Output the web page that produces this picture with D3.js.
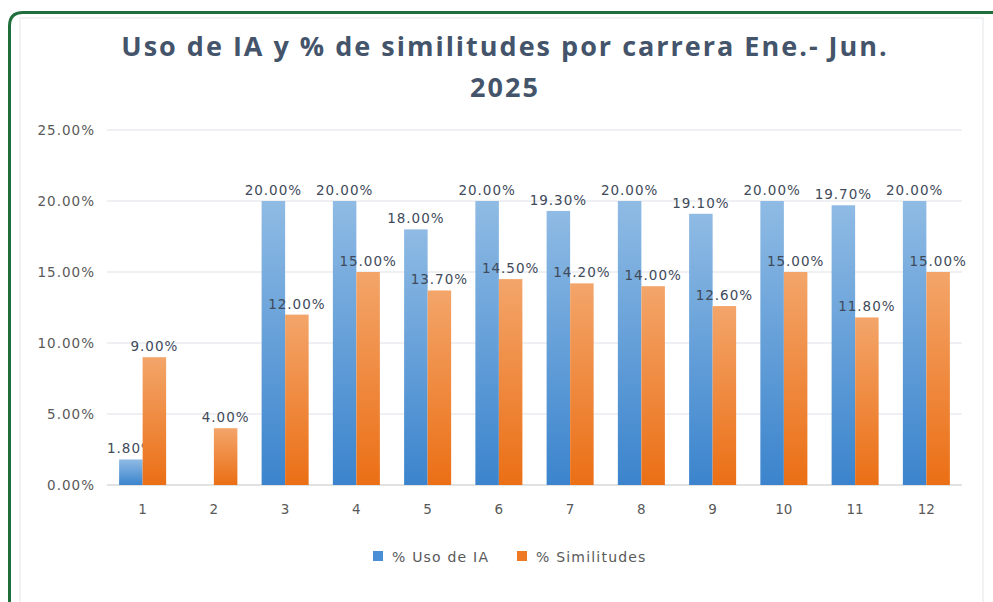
<!DOCTYPE html>
<html>
<head>
<meta charset="utf-8">
<script src="https://cdn.jsdelivr.net/npm/d3@7"></script>
<style>
body { margin: 0; background: #fff; }
</style>
</head>
<body>
<div id="chart"></div>
<script>
const carreras = ['1','2','3','4','5','6','7','8','9','10','11','12'];
const usoIA = [1.8, null, 20, 20, 18, 20, 19.3, 20, 19.1, 20, 19.7, 20];
const similitudes = [9, 4, 12, 15, 13.7, 14.5, 14.2, 14, 12.6, 15, 11.8, 15];
const yTicks = [0, 5, 10, 15, 20, 25];
const series = ['% Uso de IA', '% Similitudes'];

const W = 993, H = 602;
const margin = {top: 130, right: 31, bottom: 117, left: 107};
const width = W - margin.left - margin.right,
    height = H - margin.top - margin.bottom;

const root = d3.select('#chart').append('svg')
    .attr('width', W)
    .attr('height', H);

const defs = root.append('defs');
const grads = [['gBlue', '#8fbbe4', '#3b84cd'], ['gOrange', '#f3a56a', '#eb6f15']];
grads.forEach(g => {
    const lg = defs.append('linearGradient')
        .attr('id', g[0]).attr('x1', 0).attr('y1', 0).attr('x2', 0).attr('y2', 1);
    lg.append('stop').attr('offset', '0%').attr('stop-color', g[1]);
    lg.append('stop').attr('offset', '100%').attr('stop-color', g[2]);
});

// frame
root.append('rect')
    .attr('x', 20).attr('y', 18).attr('width', 963).attr('height', 600)
    .attr('fill', 'none').attr('stroke', '#eceef1').attr('stroke-width', 1.5);
root.append('path')
    .attr('d', 'M9.5,610 L9.5,26 Q9.5,12.5 23,12.5 L1000,12.5')
    .attr('fill', 'none').attr('stroke', '#1f6e3c').attr('stroke-width', 3);

// title
const title = root.append('text')
    .attr('text-anchor', 'middle')
    .attr('font-family', 'Open Sans, sans-serif')
    .attr('font-weight', 'bold')
    .attr('font-size', 27)
    .attr('letter-spacing', 2)
    .attr('fill', '#44546a');
title.append('tspan').attr('x', 505).attr('y', 56).text('Uso de IA y % de similitudes por carrera Ene.- Jun.');
title.append('tspan').attr('x', 505).attr('y', 97).text('2025');

const svg = root.append('g')
    .attr('transform', `translate(${margin.left}, ${margin.top})`);

const x0 = d3.scaleBand()
    .domain(carreras)
    .range([0, width])
    .paddingInner(0.34)
    .paddingOuter(0.17);

const x1 = d3.scaleBand()
    .domain(series)
    .range([0, x0.bandwidth()]);

const y = d3.scaleLinear()
    .domain([0, 25])
    .range([height, 0]);

// gridlines
svg.append('g')
    .selectAll('line')
    .data(yTicks)
    .enter()
    .append('line')
    .attr('x1', 0).attr('x2', width)
    .attr('y1', d => y(d)).attr('y2', d => y(d))
    .attr('stroke', d => d === 0 ? '#d9d9d9' : '#e8ebf0')
    .attr('stroke-width', 1.5);

const yAxis = d3.axisLeft(y)
    .tickValues(yTicks)
    .tickSize(0)
    .tickPadding(12)
    .tickFormat(d => d.toFixed(2) + '%');

svg.append('g')
    .attr('class', 'axis y-axis')
    .call(yAxis)
    .call(g => g.select('.domain').remove())
    .selectAll('text')
    .attr('font-family', 'DejaVu Sans, sans-serif')
    .attr('font-size', 13.5)
    .attr('letter-spacing', 1)
    .attr('fill', '#595959');

const xAxis = d3.axisBottom(x0)
    .tickSize(0)
    .tickPadding(19);

svg.append('g')
    .attr('class', 'axis x-axis')
    .attr('transform', `translate(0, ${height})`)
    .call(xAxis)
    .call(g => g.select('.domain').remove())
    .selectAll('text')
    .attr('font-family', 'DejaVu Sans, sans-serif')
    .attr('font-size', 13.5)
    .attr('fill', '#595959');

const data = carreras.map((c, i) => ({c: c, vals: [usoIA[i], similitudes[i]]}));

const groups = svg.selectAll('.grp')
    .data(data)
    .enter()
    .append('g')
    .attr('class', 'grp')
    .attr('transform', d => `translate(${x0(d.c)}, 0)`);

const cells = groups.selectAll('g')
    .data(d => d.vals.map((v, j) => ({s: series[j], v: v, j: j})).filter(e => e.v !== null))
    .enter()
    .append('g');

cells.append('rect')
    .attr('x', d => x1(d.s))
    .attr('width', x1.bandwidth())
    .attr('y', d => y(d.v))
    .attr('height', d => height - y(d.v))
    .attr('fill', d => d.j === 0 ? 'url(#gBlue)' : 'url(#gOrange)');

cells.append('text')
    .attr('x', d => x1(d.s) + x1.bandwidth() / 2)
    .attr('y', d => y(d.v) - 6)
    .attr('text-anchor', 'middle')
    .attr('font-family', 'DejaVu Sans, sans-serif')
    .attr('font-size', 13.5)
    .attr('letter-spacing', 1)
    .attr('fill', '#404a5a')
    .text(d => d.v.toFixed(2) + '%');

// legend
const legend = root.append('g')
    .attr('transform', 'translate(373, 551)');
const items = legend.selectAll('g')
    .data(series)
    .enter()
    .append('g')
    .attr('transform', (d, i) => `translate(${i * 144}, 0)`);
items.append('rect')
    .attr('width', 10).attr('height', 10)
    .attr('fill', (d, i) => i === 0 ? '#4a8fd5' : '#ee7a26');
items.append('text')
    .attr('x', 19).attr('y', 11)
    .attr('font-family', 'DejaVu Sans, sans-serif')
    .attr('font-size', 14)
    .attr('letter-spacing', 1.2)
    .attr('fill', '#595959')
    .text(d => d);
</script>
</body>
</html>
